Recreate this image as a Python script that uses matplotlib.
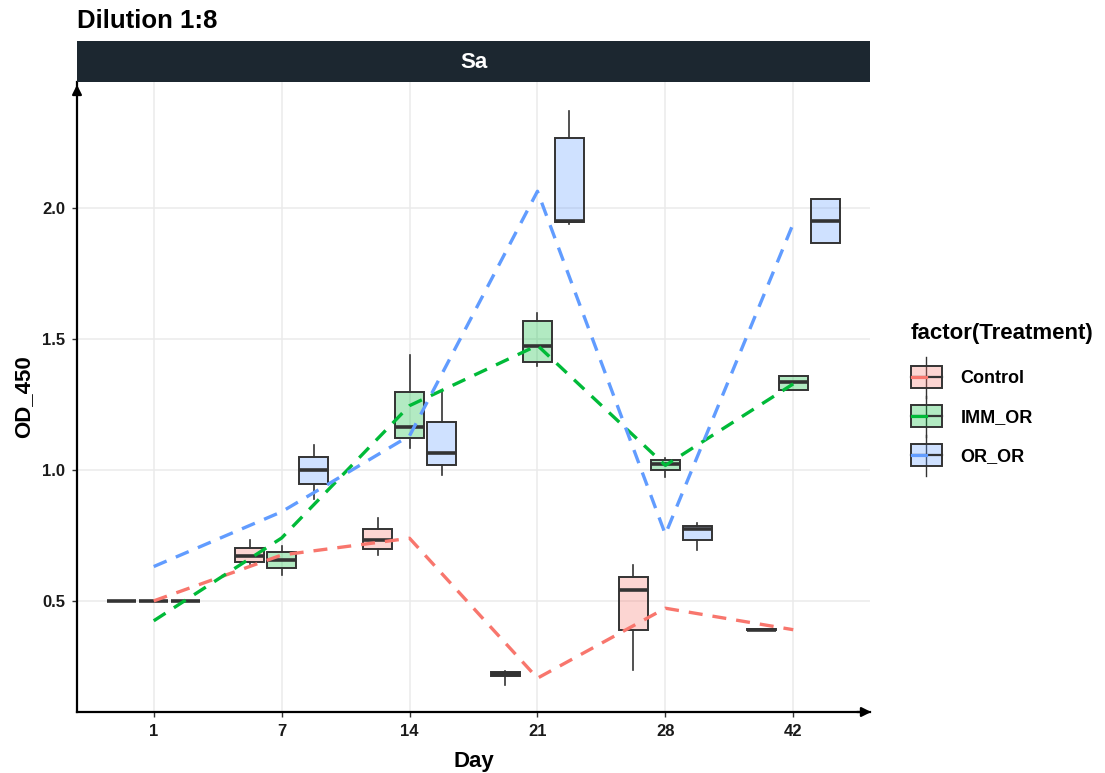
import matplotlib
matplotlib.use('Agg')
import matplotlib.pyplot as plt
from matplotlib.patches import Rectangle
from matplotlib.legend_handler import HandlerBase
from matplotlib.lines import Line2D

plt.rcParams['font.family'] = ['Liberation Sans', 'DejaVu Sans']

days = ['1', '7', '14', '21', '28', '42']
treatments = ['Control', 'IMM_OR', 'OR_OR']
colors = ['#F8766D', '#00BA38', '#619CFF']

# box stats per day: (whislo, q1, med, q3, whishi)
control_box = [(0.5, 0.5, 0.5, 0.5, 0.5), (0.641, 0.65, 0.672, 0.701, 0.733),
               (0.676, 0.698, 0.733, 0.774, 0.816), (0.18, 0.213, 0.22, 0.228, 0.233),
               (0.235, 0.389, 0.542, 0.59, 0.637), (0.39, 0.39, 0.39, 0.392, 0.392)]
imm_box = [(0.5, 0.5, 0.5, 0.5, 0.5), (0.598, 0.627, 0.656, 0.687, 0.71),
           (1.085, 1.121, 1.163, 1.298, 1.439), (1.395, 1.41, 1.473, 1.569, 1.598),
           (0.973, 0.998, 1.024, 1.036, 1.047), (1.303, 1.303, 1.337, 1.36, 1.36)]
or_box = [(0.5, 0.5, 0.5, 0.5, 0.5), (0.889, 0.945, 1.0, 1.048, 1.095),
          (0.981, 1.019, 1.064, 1.184, 1.305), (1.94, 1.946, 1.95, 2.265, 2.37),
          (0.695, 0.733, 0.776, 0.786, 0.797), (1.865, 1.865, 1.95, 2.034, 2.034)]

# dashed trend lines (values at category centre)
control_line = [0.5, 0.675, 0.739, 0.205, 0.472, 0.39]
imm_line = [0.424, 0.74, 1.245, 1.475, 1.017, 1.328]
or_line = [0.631, 0.84, 1.13, 2.063, 0.754, 1.94]

boxes = [control_box, imm_box, or_box]
lines = [control_line, imm_line, or_line]

W, H = 1105, 773
fig = plt.figure(figsize=(W / 100, H / 100), dpi=100)
L, R, T, B = 77, 870, 82, 712
ax = fig.add_axes([L / W, 1 - B / H, (R - L) / W, (B - T) / H])

edge = '#333333'
for j, (stats_list, col) in enumerate(zip(boxes, colors)):
    stats = []
    pos = []
    for i, s in enumerate(stats_list):
        stats.append(dict(whislo=s[0], q1=s[1], med=s[2], q3=s[3], whishi=s[4], fliers=[]))
        pos.append(i + 1 + (j - 1) * 0.25)
    ax.bxp(stats, positions=pos, widths=0.23, patch_artist=True, showcaps=False,
           boxprops=dict(facecolor=matplotlib.colors.to_rgba(col, 0.3), edgecolor=edge, linewidth=1.4),
           whiskerprops=dict(color=edge, linewidth=1.2),
           medianprops=dict(color=edge, linewidth=2.6, solid_capstyle='butt'),
           manage_ticks=False, zorder=2)

xs = list(range(1, len(days) + 1))
for vals, col in zip(lines, colors):
    ax.plot(xs, vals, color=col, linewidth=2.4, linestyle=(0, (4.2, 3.0)), zorder=3)

ax.set_xlim(0.4, 6.6)
ax.set_ylim(0.076, 2.48)
ax.set_xticks(xs)
ax.set_xticklabels(days)
ax.set_yticks([0.5, 1.0, 1.5, 2.0])
ax.set_yticklabels(['0.5', '1.0', '1.5', '2.0'])
ax.grid(True, color='#EBEBEB', linewidth=1.1, zorder=0)
ax.set_axisbelow(True)
for sp in ['top', 'right']:
    ax.spines[sp].set_visible(False)
for sp in ['left', 'bottom']:
    ax.spines[sp].set_linewidth(1.6)
    ax.spines[sp].set_color('black')
ax.tick_params(length=3.5, width=1.0, color='#333333', pad=5, labelsize=12)
for lab in ax.get_xticklabels() + ax.get_yticklabels():
    lab.set_fontweight('bold')
    lab.set_color('#1a1a1a')

# arrows at axis ends
ax.annotate('', xy=(0, 1.0), xytext=(0, 0.98), xycoords='axes fraction',
            arrowprops=dict(arrowstyle='-|>', color='black', lw=1.6, mutation_scale=14))
ax.annotate('', xy=(1.005, 0), xytext=(0.98, 0), xycoords='axes fraction',
            arrowprops=dict(arrowstyle='-|>', color='black', lw=1.6, mutation_scale=14))

ax.set_xlabel('Day', fontsize=16, fontweight='bold', labelpad=9)
ax.set_ylabel('OD_450', fontsize=16, fontweight='bold', labelpad=6)

# facet strip
fig.add_artist(Rectangle((L / W, 1 - 82 / H), (R - L) / W, 41 / H, transform=fig.transFigure,
                         facecolor='#1C2730', edgecolor='none'))
fig.text((L + R) / 2 / W, 1 - 62 / H, 'Sa', color='white', fontsize=16, fontweight='bold',
         ha='center', va='center')
fig.text(77 / W, 1 - 21 / H, 'Dilution 1:8', fontsize=18.5, fontweight='bold', ha='left', va='center')


class BoxHandler(HandlerBase):
    def create_artists(self, legend, orig_handle, xdescent, ydescent, width, height, fontsize, trans):
        col = orig_handle.get_color()
        cy = height / 2 - ydescent
        bh = 15.5
        x0 = -xdescent
        arts = []
        arts.append(Line2D([x0 + width / 2] * 2, [cy - bh / 2 - 7, cy + bh / 2 + 7], color=edge,
                           lw=1.0, transform=trans))
        arts.append(Rectangle((x0, cy - bh / 2), width, bh, facecolor=matplotlib.colors.to_rgba(col, 0.3),
                              edgecolor=edge, lw=1.4, transform=trans))
        arts.append(Line2D([x0, x0 + width], [cy, cy], color=edge, lw=1.6, transform=trans))
        arts.append(Line2D([x0 + 1, x0 + width * 0.5], [cy, cy], color=col, lw=2.3, transform=trans))
        return arts


handles = [Line2D([], [], color=c) for c in colors]
leg = fig.legend(handles, treatments, handler_map={Line2D: BoxHandler()},
                 loc='upper left', bbox_to_anchor=(911 / W, 1 - 323 / H), frameon=False,
                 title='factor(Treatment)', prop=dict(size=13, weight='bold'),
                 title_fontproperties=dict(size=16, weight='bold'), alignment='left',
                 handlelength=1.7, handleheight=1.0, labelspacing=1.15, handletextpad=1.05,
                 borderpad=0, borderaxespad=0)
leg._legend_box.sep = 18

fig.savefig('out.png', dpi=100)
